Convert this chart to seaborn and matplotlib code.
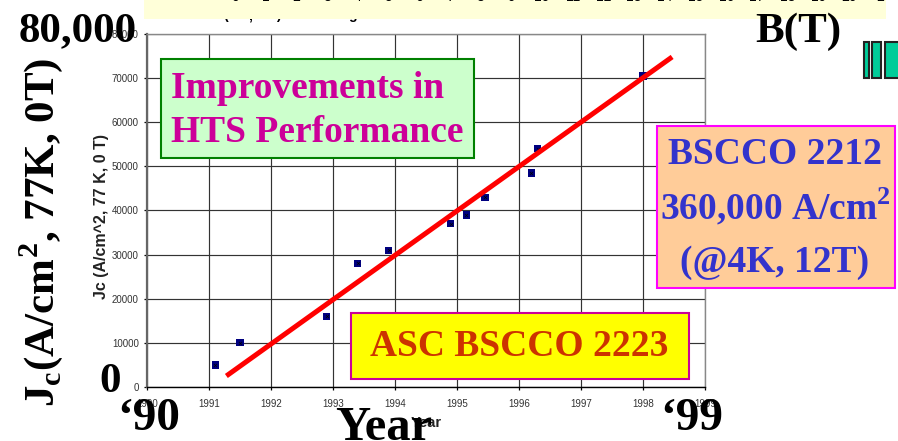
import matplotlib
matplotlib.use("Agg")
import matplotlib.pyplot as plt
import pandas as pd
import seaborn as sns
from matplotlib.patches import Rectangle

# values
years = [1991.1, 1991.5, 1992.9, 1993.4, 1993.9, 1994.9, 1995.15, 1995.45, 1996.2, 1996.3, 1998.0]
jc_values = [5000, 10000, 16000, 28000, 31000, 37000, 39000, 43000, 48500, 54000, 70500]
fit_years = [1991.28, 1998.47]
fit_jc = [2500, 74800]
year_ticks = list(range(1990, 2000))
jc_ticks = list(range(0, 90000, 10000))
field_labels = [str(i) for i in range(0, 21)] + ["2"]

W, H = 898, 441
SERIF = "Liberation Serif"

sns.set_theme(style="white")
plt.rcParams["font.family"] = ["Liberation Sans", "DejaVu Sans"]
plt.rcParams["mathtext.fontset"] = "custom"
plt.rcParams["mathtext.bf"] = "Liberation Serif:bold"
plt.rcParams["mathtext.rm"] = "Liberation Serif:bold"


# pixel position to figure fraction
def fx(x):
    return x / W


def fy(y):
    return 1 - y / H


def add_box(fig, x0, y0, x1, y1, face, edge, lw=1.5, zorder=1):
    fig.add_artist(Rectangle((fx(x0), fy(y1)), (x1 - x0) / W, (y1 - y0) / H,
                             transform=fig.transFigure, facecolor=face,
                             edgecolor=edge, linewidth=lw, zorder=zorder))


def big_text(fig, x, y, s, size=31, color="black", ha="center", rotation=0):
    fig.text(fx(x), fy(y), s, family=SERIF, weight="bold", fontsize=size, color=color,
             ha=ha, va="center", rotation=rotation, zorder=5)


fig = plt.figure(figsize=(W / 100, H / 100), dpi=100)
ax = fig.add_axes([fx(147), fy(387), (705 - 147) / W, (387 - 34) / H])

points = pd.DataFrame({"year": years, "jc": jc_values})
fit = pd.DataFrame({"year": fit_years, "jc": fit_jc})

sns.scatterplot(data=points, x="year", y="jc", marker="s", s=27, color="#000080",
                edgecolor="none", ax=ax, zorder=3, clip_on=False)
sns.scatterplot(data=points, x="year", y="jc", marker="x", s=5, color="black",
                linewidth=0.5, ax=ax, zorder=4)
sns.lineplot(data=fit, x="year", y="jc", color="#FF0000", linewidth=3.6, ax=ax, zorder=5,
             solid_capstyle="butt")

ax.set_xlim(1990, 1999)
ax.set_ylim(0, 80000)
ax.set_xticks(year_ticks)
ax.set_yticks(jc_ticks)
ax.grid(True, color="#333333", linewidth=0.85)
ax.set_axisbelow(True)
ax.tick_params(axis="both", length=2.4, width=0.9, color="black", labelsize=7,
               labelcolor="#333333", bottom=True, left=True)
ax.tick_params(axis="x", pad=6)
ax.tick_params(axis="y", pad=3.5)
for name, col, lw in [("left", "#666666", 1.6), ("bottom", "black", 1.0),
                      ("top", "#888888", 1.0), ("right", "#888888", 1.0)]:
    ax.spines[name].set_color(col)
    ax.spines[name].set_linewidth(lw)
    ax.spines[name].set_visible(True)
ax.set_xlabel("Year", fontsize=10.5, weight="bold", color="#222222", labelpad=5.5, x=0.5)
ax.set_ylabel("Jc (A/cm^2, 77 K, 0 T)", fontsize=11.5, weight="bold", color="#222222",
              labelpad=2, y=0.484)

# bits of the previous slide chart cut off at the top
for ch, x in [("(", 226), (",", 250), (")", 278), ("g", 353)]:
    fig.text(fx(x), fy(15), ch, fontsize=10, weight="bold", color="black", ha="center",
             va="center", zorder=1)
add_box(fig, 144, -2, 886, 19, "#FFFFD9", "none", lw=0, zorder=2)
for i, lab in enumerate(field_labels):
    fig.text(fx(235 + i * 30.7), fy(-3.4), lab, fontsize=10, color="black", ha="center",
             va="center", zorder=3)

add_box(fig, 161, 59, 474, 158, "#CCFFCC", "#008000")
big_text(fig, 308, 88, "Improvements in", size=27, color="#CC0099")
big_text(fig, 317, 133, "HTS Performance", size=27, color="#CC0099")

add_box(fig, 657, 126, 895, 288, "#FFCC99", "#FF00FF")
big_text(fig, 775, 155, "BSCCO 2212", size=27, color="#3333CC")
big_text(fig, 775, 207, r"360,000 A/cm$^{\mathbf{2}}$", size=27, color="#3333CC")
big_text(fig, 775, 262, "(@4K, 12T)", size=27, color="#3333CC")

add_box(fig, 351, 313, 689, 379, "#FFFF00", "#CC0099")
big_text(fig, 519, 347, "ASC BSCCO 2223", size=27, color="#CC3300")

big_text(fig, 78, 31, "80,000")
big_text(fig, 110, 382, "0")
big_text(fig, 149, 419, "\u201890", size=34)
big_text(fig, 692, 419, "\u201899", size=34)
big_text(fig, 384, 428, "Year", size=35)
big_text(fig, 798, 32, "B(T)")
big_text(fig, 41, 232, r"J$_{\mathbf{c}}$(A/cm$^{\mathbf{2}}$, 77K, 0T)", rotation=90)

for x0, x1 in [(864, 869), (872, 881), (885, 905)]:
    add_box(fig, x0, 42, x1, 78, "#00CC99", "#222222")

fig.savefig("out.png", dpi=100)
